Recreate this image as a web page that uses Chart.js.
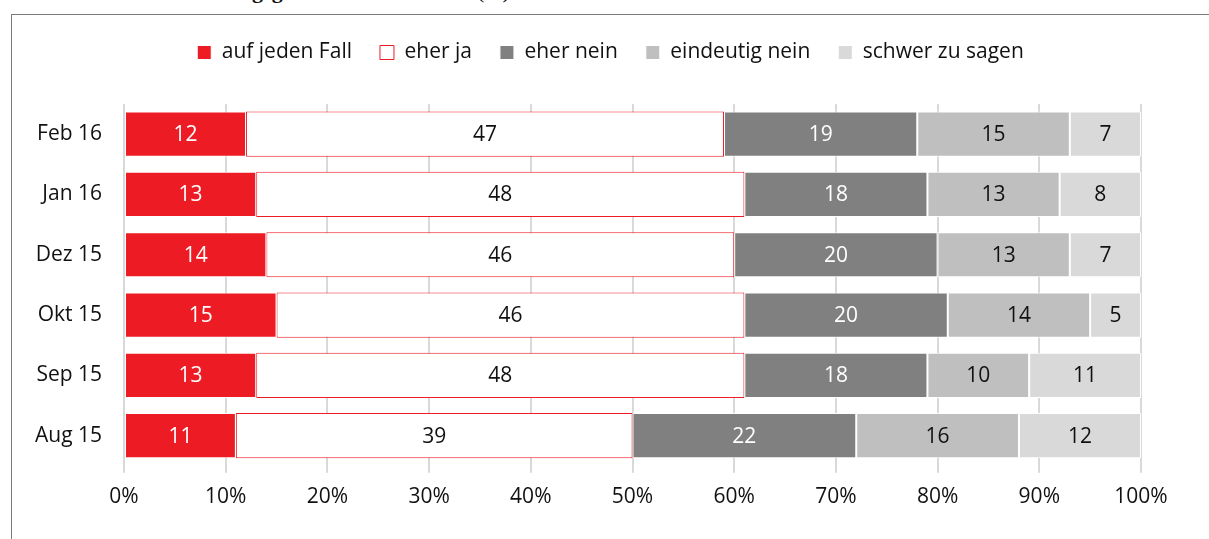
<!DOCTYPE html>
<html>
<head>
<meta charset="utf-8">
<script src="https://cdn.jsdelivr.net/npm/chart.js@4.4.1/dist/chart.umd.min.js"></script>
<style>
  html, body { margin: 0; padding: 0; background: #fff; width: 1209px; height: 539px; overflow: hidden; }
  #title { position: absolute; left: 132px; top: -24px; font-family: "Liberation Serif", "DejaVu Serif", serif; font-size: 22px; line-height: 30px; color: #111; white-space: nowrap; }
  #box { position: absolute; left: 11px; top: 14px; width: 1210px; height: 540px; border-left: 1px solid #7a7a7a; border-top: 1px solid #7a7a7a; box-sizing: border-box; background: transparent; }
  #wrap { position: absolute; left: 12px; top: 15px; width: 1197px; height: 524px; }
</style>
</head>
<body>
<div id="title"><b>den Wohnungsgesetzen aufnehmen?</b> (%)</div>
<div id="box"></div>
<div id="wrap"><canvas id="c"></canvas></div>
<script>
const categories = ["Feb 16", "Jan 16", "Dez 15", "Okt 15", "Sep 15", "Aug 15"];
const seriesNames = ["auf jeden Fall", "eher ja", "eher nein", "eindeutig nein", "schwer zu sagen"];
const aufJedenFall = [12, 13, 14, 15, 13, 11];
const eherJa = [47, 48, 46, 46, 48, 39];
const eherNein = [19, 18, 20, 20, 18, 22];
const eindeutigNein = [15, 13, 13, 14, 10, 16];
const schwerZuSagen = [7, 8, 7, 5, 11, 12];
const xTicks = [0, 10, 20, 30, 40, 50, 60, 70, 80, 90, 100];

const FONT = "Open Sans";
const FS = 21;
const RED = "#ED1C24";

const fills = [RED, "#FFFFFF", "#808080", "#BFBFBF", "#D9D9D9"];
const borders = ["#FFFFFF", RED, "#FFFFFF", "#FFFFFF", "#FFFFFF"];
const labelColors = ["#FFFFFF", "#111111", "#FFFFFF", "#111111", "#111111"];
const values = [aufJedenFall, eherJa, eherNein, eindeutigNein, schwerZuSagen];

const datasets = seriesNames.map((n, i) => ({
  label: n,
  data: values[i],
  backgroundColor: fills[i],
  borderColor: borders[i],
  borderWidth: 1,
  borderSkipped: false,
  barPercentage: 0.75,
  categoryPercentage: 1.0
}));

const valueLabels = {
  id: "valueLabels",
  afterDatasetsDraw(chart) {
    const ctx = chart.ctx;
    ctx.save();
    ctx.font = FS + "px '" + FONT + "'";
    ctx.textAlign = "center";
    ctx.textBaseline = "middle";
    chart.data.datasets.forEach((ds, di) => {
      const meta = chart.getDatasetMeta(di);
      meta.data.forEach((bar, j) => {
        const p = bar.getProps(["x", "y", "base"], true);
        const cx = (p.x + p.base) / 2;
        ctx.fillStyle = labelColors[di];
        ctx.fillText(String(ds.data[j]), cx, p.y + 1);
      });
    });
    ctx.restore();
  }
};

const legendHeight = {
  id: "legendHeight",
  beforeInit(chart) {
    const orig = chart.legend.fit;
    chart.legend.fit = function () {
      orig.bind(chart.legend)();
      this.height = 90;
    };
  }
};

new Chart(document.getElementById("c"), {
  type: "bar",
  data: { labels: categories, datasets: datasets },
  options: {
    indexAxis: "y",
    responsive: true,
    maintainAspectRatio: false,
    animation: false,
    layout: { padding: { left: 0, right: 0, top: -1, bottom: 17 } },
    plugins: {
      tooltip: { enabled: false },
      legend: {
        position: "top",
        labels: {
          boxWidth: 14,
          boxHeight: 14,
          padding: 28,
          color: "#111",
          font: { family: FONT, size: FS }
        }
      }
    },
    scales: {
      x: {
        stacked: true,
        min: 0,
        max: 100,
        afterBuildTicks(scale) { scale.ticks = xTicks.map(v => ({ value: v })); },
        ticks: {
          callback: v => v + "%",
          color: "#111",
          font: { family: FONT, size: FS },
          padding: 12,
          maxRotation: 0
        },
        grid: { color: "#D9D9D9", lineWidth: 2, drawTicks: true, tickLength: 7 },
        border: { display: false }
      },
      y: {
        stacked: true,
        afterFit(scale) { scale.width = 112; },
        ticks: {
          color: "#111",
          font: { family: FONT, size: FS },
          padding: 14
        },
        grid: { display: false },
        border: { display: false }
      },
      yRight: {
        type: "category",
        position: "right",
        display: true,
        afterFit(scale) { scale.width = 68; },
        ticks: { display: false },
        grid: { display: false },
        border: { display: false }
      }
    }
  },
  plugins: [valueLabels, legendHeight]
});
</script>
</body>
</html>
